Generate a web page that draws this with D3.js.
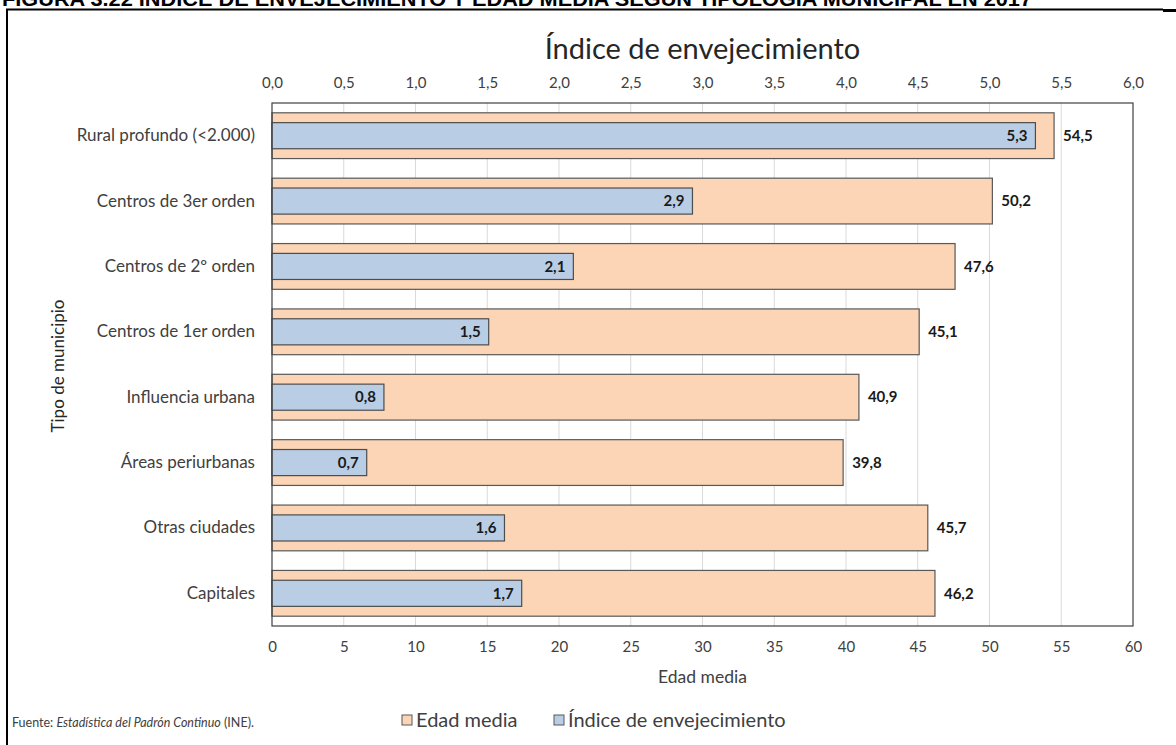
<!DOCTYPE html>
<html><head><meta charset="utf-8">
<script src="https://cdn.jsdelivr.net/npm/d3@7"></script>
<style>
html,body{margin:0;padding:0;background:#fff;}
svg{display:block;}
text{font-family:Lato,"Open Sans",sans-serif;}
</style></head>
<body>
<svg id="chart" width="1176" height="745"></svg>
<script>
const categories = ["Rural profundo (<2.000)","Centros de 3er orden","Centros de 2º orden","Centros de 1er orden","Influencia urbana","Áreas periurbanas","Otras ciudades","Capitales"];
const edadMedia = [54.5, 50.2, 47.6, 45.1, 40.9, 39.8, 45.7, 46.2];
const indiceEnvejecimiento = [5.32, 2.93, 2.10, 1.51, 0.78, 0.66, 1.62, 1.74];
const bottomTicks = [0,5,10,15,20,25,30,35,40,45,50,55,60];
const topTicks = [0,0.5,1,1.5,2,2.5,3,3.5,4,4.5,5,5.5,6];

const svg = d3.select("#chart");
const M = {left:272, right:1133, top:103, bottom:626};
const x = d3.scaleLinear().domain([0,60]).range([M.left, M.right]);
const x2 = d3.scaleLinear().domain([0,6]).range([M.left, M.right]);
const y = d3.scaleBand().domain(categories).range([M.top, M.bottom]).paddingInner(0.3).paddingOuter(0.15);
const fmt1 = d => d3.format(".1f")(d).replace(".", ",");

// figure title (cut at top, as in the source image)
svg.append("text").attr("x",2).attr("y",6)
  .style("font-family","'Liberation Sans',Arial,sans-serif").style("font-weight","bold").style("font-size","21px")
  .attr("textLength",1030).attr("lengthAdjust","spacingAndGlyphs")
  .attr("fill","#000")
  .text("FIGURA 3.22 ÍNDICE DE ENVEJECIMIENTO Y EDAD MEDIA SEGÚN TIPOLOGÍA MUNICIPAL EN 2017");

// outer frame
svg.append("path").attr("d","M7,745 L7,9.5 L1163,9.5").attr("fill","none").attr("stroke","#000").attr("stroke-width",2);
svg.append("path").attr("d","M1163,10.5 L1176,10.5").attr("fill","none").attr("stroke","#000").attr("stroke-width",3);

// gridlines
svg.append("g").selectAll("line").data(bottomTicks.slice(1,-1)).join("line")
  .attr("x1",d=>x(d)).attr("x2",d=>x(d)).attr("y1",M.top).attr("y2",M.bottom)
  .attr("stroke","#D9D9D9").attr("stroke-width",1);

// orange bars
svg.append("g").selectAll("rect").data(categories).join("rect")
  .attr("x",x(0)).attr("y",(d)=>y(d))
  .attr("width",(d,i)=>x(edadMedia[i])-x(0)).attr("height",y.bandwidth())
  .attr("fill","#FBD5B5").attr("stroke","#595959").attr("stroke-width",1.2);

// blue bars
const bh = y.bandwidth()*0.57;
svg.append("g").selectAll("rect").data(categories).join("rect")
  .attr("x",x2(0)).attr("y",d=>y(d)+(y.bandwidth()-bh)/2)
  .attr("width",(d,i)=>x2(indiceEnvejecimiento[i])-x2(0)).attr("height",bh)
  .attr("fill","#B9CDE5").attr("stroke","#4d4d4d").attr("stroke-width",1.2);

// value labels
svg.append("g").selectAll("text").data(categories).join("text")
  .attr("x",(d,i)=>x2(indiceEnvejecimiento[i])-8).attr("y",d=>y(d)+y.bandwidth()/2)
  .attr("dy","0.35em").attr("text-anchor","end")
  .style("font-weight","bold").style("font-size","15px").attr("fill","#1a1a1a")
  .text((d,i)=>fmt1(indiceEnvejecimiento[i]));
svg.append("g").selectAll("text").data(categories).join("text")
  .attr("x",(d,i)=>x(edadMedia[i])+9).attr("y",d=>y(d)+y.bandwidth()/2)
  .attr("dy","0.35em").attr("text-anchor","start")
  .style("font-weight","bold").style("font-size","15px").attr("fill","#1a1a1a")
  .text((d,i)=>fmt1(edadMedia[i]));

// plot border
svg.append("rect").attr("x",M.left).attr("y",M.top).attr("width",M.right-M.left).attr("height",M.bottom-M.top)
  .attr("fill","none").attr("stroke","#404040").attr("stroke-width",1.2);

// axes
const axB = svg.append("g").attr("transform",`translate(0,${M.bottom})`)
  .call(d3.axisBottom(x).tickValues(bottomTicks).tickSize(0).tickPadding(15).tickFormat(d=>d));
const axT = svg.append("g").attr("transform",`translate(0,${M.top})`)
  .call(d3.axisTop(x2).tickValues(topTicks).tickSize(0).tickPadding(15).tickFormat(fmt1));
const axL = svg.append("g").attr("transform",`translate(${M.left},0)`)
  .call(d3.axisLeft(y).tickSize(0).tickPadding(17));
[axB,axT,axL].forEach(a=>{a.select(".domain").remove(); a.selectAll("text").style("font-family","Lato,'Open Sans',sans-serif").attr("fill","#404040");});
axB.selectAll("text").style("font-size","15px");
axT.selectAll("text").style("font-size","15px");
axL.selectAll("text").style("font-size","17px");

// axis titles
svg.append("text").attr("x",(M.left+M.right)/2).attr("y",59).attr("text-anchor","middle")
  .style("font-size","29px").attr("fill","#262626").text("Índice de envejecimiento");
svg.append("text").attr("x",(M.left+M.right)/2).attr("y",683).attr("text-anchor","middle")
  .style("font-size","17.5px").attr("fill","#404040").text("Edad media");
svg.append("text").attr("transform","translate(64,366) rotate(-90)").attr("text-anchor","middle")
  .style("font-size","17px").attr("fill","#262626").text("Tipo de municipio");

// legend
const legend = [{label:"Edad media", fill:"#FBD5B5", x:402},{label:"Índice de envejecimiento", fill:"#B9CDE5", x:554}];
const lg = svg.append("g").selectAll("g").data(legend).join("g").attr("transform",d=>`translate(${d.x},720)`);
lg.append("rect").attr("x",0).attr("y",-5).attr("width",10).attr("height",10).attr("fill",d=>d.fill).attr("stroke","#595959").attr("stroke-width",1);
lg.append("text").attr("x",14).attr("dy","0.35em").style("font-size","20px").attr("fill","#404040").text(d=>d.label);

// source
const src = svg.append("text").attr("x",12).attr("y",727).style("font-size","12.5px").attr("fill","#404040");
src.append("tspan").text("Fuente: ");
src.append("tspan").style("font-style","italic").text("Estadística del Padrón Continuo");
src.append("tspan").text(" (INE).");
</script>
</body></html>
